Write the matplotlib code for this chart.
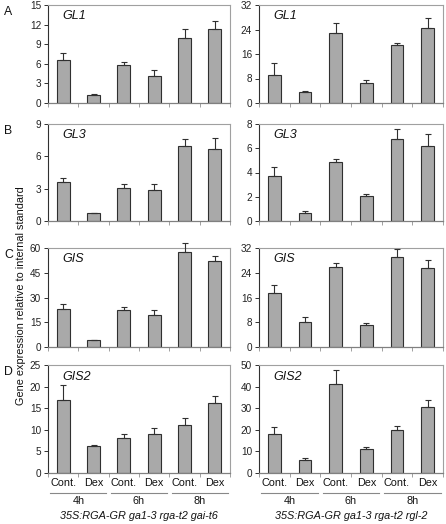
"""Gene expression bar panels (GL1, GL3, GIS, GIS2) for two genotypes."""

import matplotlib
matplotlib.use("Agg")
import matplotlib.pyplot as plt
import numpy as np

plt.rcParams["font.family"] = ["Liberation Sans", "DejaVu Sans"]

W, H = 446, 524

conditions = ["Cont.", "Dex", "Cont.", "Dex", "Cont.", "Dex"]
timepoints = ["4h", "6h", "8h"]
genotypes = ["35S:RGA-GR ga1-3 rga-t2 gai-t6", "35S:RGA-GR ga1-3 rga-t2 rgl-2"]
genes = ["GL1", "GL3", "GIS", "GIS2"]
panel_letters = ["A", "B", "C", "D"]

# left column (gai-t6)
gl1_left = [6.6, 1.2, 5.8, 4.2, 10.0, 11.3]
gl1_left_err = [1.0, 0.15, 0.4, 0.9, 1.3, 1.2]
gl3_left = [3.6, 0.7, 3.1, 2.9, 7.0, 6.7]
gl3_left_err = [0.4, 0.08, 0.3, 0.5, 0.6, 1.0]
gis_left = [23.0, 4.2, 22.2, 19.5, 57.8, 52.2]
gis_left_err = [3.2, 0.3, 2.3, 3.0, 5.5, 3.0]
gis2_left = [17.0, 6.2, 8.0, 9.0, 11.2, 16.3]
gis2_left_err = [3.3, 0.3, 1.0, 1.4, 1.6, 1.6]

# right column (rgl-2)
gl1_right = [9.2, 3.6, 22.7, 6.5, 18.8, 24.5]
gl1_right_err = [3.8, 0.3, 3.5, 1.0, 0.9, 3.3]
gl3_right = [3.7, 0.7, 4.85, 2.05, 6.75, 6.2]
gl3_right_err = [0.75, 0.1, 0.3, 0.15, 0.85, 1.0]
gis_right = [17.5, 8.2, 25.8, 7.1, 29.2, 25.5]
gis_right_err = [2.5, 1.4, 1.3, 0.6, 2.6, 2.5]
gis2_right = [18.0, 6.0, 41.0, 11.2, 20.0, 30.5]
gis2_right_err = [3.3, 0.8, 6.5, 1.0, 1.7, 3.5]

left_vals = [gl1_left, gl3_left, gis_left, gis2_left]
left_errs = [gl1_left_err, gl3_left_err, gis_left_err, gis2_left_err]
right_vals = [gl1_right, gl3_right, gis_right, gis2_right]
right_errs = [gl1_right_err, gl3_right_err, gis_right_err, gis2_right_err]

left_ylims = [(15, 3), (9, 3), (60, 15), (25, 5)]
right_ylims = [(32, 8), (8, 2), (32, 8), (50, 10)]

col_x = [(48, 230), (259, 443)]
row_y = [(5, 103), (124, 221), (248, 347), (365, 473)]

BAR_COLOR = "#a9a9a9"
EDGE = "#303030"
FRAME = "#a0a0a0"


def px_axes(fig, x0, y0, x1, y1):
    return fig.add_axes([x0 / W, 1 - y1 / H, (x1 - x0) / W, (y1 - y0) / H])


def draw_panel(ax, vals, errs, ymax, step, gene):
    x = np.arange(len(vals))
    ax.bar(x, vals, width=0.42, color=BAR_COLOR, edgecolor=EDGE, linewidth=0.8, zorder=2)
    ax.errorbar(x, vals, yerr=[np.zeros(len(errs)), errs], fmt="none",
                ecolor=EDGE, elinewidth=0.8, capsize=2.5, capthick=0.8,
                clip_on=False, zorder=3)
    ax.set_xlim(-0.5, len(vals) - 0.5)
    ax.set_ylim(0, ymax)
    ax.set_yticks(np.arange(0, ymax + step / 2, step))
    ax.set_xticks(np.arange(len(vals) + 1) - 0.5)
    ax.set_xticklabels([])
    ax.tick_params(axis="y", labelsize=7.2, length=3, width=0.7, color=EDGE,
                   labelcolor="#222222", pad=2)
    ax.tick_params(axis="x", length=3, width=0.7, color=FRAME)
    for side in ["top", "right"]:
        ax.spines[side].set_color(FRAME)
        ax.spines[side].set_linewidth(0.8)
    ax.spines["left"].set_color(EDGE)
    ax.spines["left"].set_linewidth(0.8)
    ax.spines["bottom"].set_color("#808080")
    ax.spines["bottom"].set_linewidth(0.9)
    ax.text(0.08, 0.86, gene, transform=ax.transAxes, fontsize=9,
            style="italic", color="#111111")


fig = plt.figure(figsize=(W / 100, H / 100), dpi=100)

for c, (vals_col, errs_col, ylims) in enumerate(
        [(left_vals, left_errs, left_ylims), (right_vals, right_errs, right_ylims)]):
    x0, x1 = col_x[c]
    for r in range(4):
        y0, y1 = row_y[r]
        ax = px_axes(fig, x0, y0, x1, y1)
        ymax, step = ylims[r]
        draw_panel(ax, vals_col[r], errs_col[r], ymax, step, genes[r])
        if r == 3:
            trans = ax.get_xaxis_transform()
            for i, lab in enumerate(conditions):
                ax.text(i, -0.095, lab, transform=trans, ha="center", va="center",
                        fontsize=7.8, color="#111111")
            for g, tp in enumerate(timepoints):
                ax.plot([2 * g - 0.42, 2 * g + 1.42], [-0.185, -0.185], transform=trans,
                        color="#888888", linewidth=0.8, clip_on=False)
                ax.text(2 * g + 0.5, -0.26, tp, transform=trans, ha="center",
                        va="center", fontsize=7.8, color="#111111")
            ax.text(0.5, -0.395, genotypes[c], transform=ax.transAxes, ha="center",
                    va="center", fontsize=7.8, style="italic", color="#111111")

for r, letter in enumerate(panel_letters):
    fig.text(4 / W, 1 - (row_y[r][0] + 7) / H, letter, fontsize=8.8,
             ha="left", va="center", color="#111111")

fig.text(21.5 / W, 1 - 296 / H, "Gene expression relative to internal standard",
         rotation=90, ha="center", va="center", fontsize=7.8, color="#111111")

fig.savefig("out.png", dpi=100)
